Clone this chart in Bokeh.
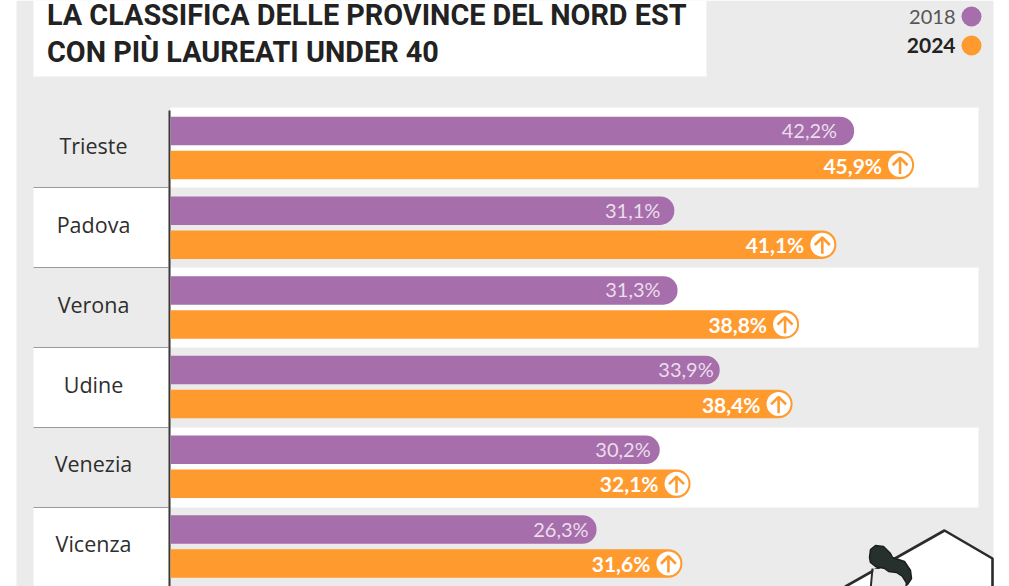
from bokeh.embed import file_html
from bokeh.resources import INLINE
from bokeh.plotting import figure
from bokeh.models import ColumnDataSource, BoxAnnotation, PolyAnnotation, Label, Range1d
from bokeh.core.properties import value
from bokeh.transform import dodge

provinces = ["Trieste", "Padova", "Verona", "Udine", "Venezia", "Vicenza"]
values_2018 = [42.2, 31.1, 31.3, 33.9, 30.2, 26.3]
values_2024 = [45.9, 41.1, 38.8, 38.4, 32.1, 31.6]
title_lines = ["LA CLASSIFICA DELLE PROVINCE DEL NORD EST", "CON PIÙ LAUREATI UNDER 40"]
legend_years = ["2018", "2024"]

W, H = 1009, 586
PURPLE, ORANGE, GRAY, DARK = "#A66EAB", "#FF9A2E", "#EBEBEB", "#2B2B2B"
PX_PER_UNIT = 16.2
X0 = 170
ROW0, PITCH = 147.5, 79.7
BAR_OFF = 17 / PITCH
BAR_H = 28.5 / PITCH
LABEL_INSET_2018 = [-17, -14, -17, -6, -9, -8]

fmt = lambda v: f"{v:.1f}%".replace(".", ",")
rows = list(range(len(provinces)))

p = figure(width=W, height=H, output_backend="svg", toolbar_location=None,
           x_axis_location=None, y_axis_location=None, min_border=0,
           x_range=Range1d(-X0 / PX_PER_UNIT, (W - X0) / PX_PER_UNIT),
           y_range=Range1d((H - ROW0) / PITCH, -ROW0 / PITCH))
p.margin = 0
p.grid.visible = False
p.outline_line_color = None
p.background_fill_color = "white"
p.border_fill_color = "white"


def box(l, r, t, b, color, level="underlay", radius=0):
    p.add_layout(BoxAnnotation(left=l, right=r, top=t, bottom=b,
                               left_units="canvas", right_units="canvas",
                               top_units="canvas", bottom_units="canvas",
                               fill_color=color, fill_alpha=1, line_color=None,
                               level=level, border_radius=radius, editable=False))


def poly(pts, fill, line=None, width=0, level="underlay"):
    p.add_layout(PolyAnnotation(xs=[a for a, _ in pts], ys=[b for _, b in pts],
                                xs_units="canvas", ys_units="canvas",
                                fill_color=fill, fill_alpha=1 if fill else 0,
                                line_color=line, line_alpha=1, line_width=width, level=level))


# panel, title box
box(16, 993, 0, H, GRAY)
box(33, 706, 0, 76, "white")

# alternating row bands
edges = [107, 187, 267, 347, 427, 507, 586]
for i in rows:
    top, bottom = edges[i], edges[i + 1]
    if i % 2 == 0:
        box(170, 978, top, bottom, "white")
    else:
        box(33, 168, top, bottom, "white")
    if i:
        box(33, 168, top - 0.5, top + 0.5, "#9A9A9A")
box(168, 170, 110, H, "#3A3A3A")

# house + person illustration
poly([(845, 586), (944, 530), (992, 558), (992, 590), (845, 590)], "white", DARK, 2.6)
poly([(871, 590), (873, 568), (908, 572), (906, 590)], GRAY)
poly([(872, 568), (870, 590)], None, DARK, 2)
poly([(907, 578), (905, 590)], None, DARK, 2)
poly([(869, 557), (870, 549), (875, 545), (883, 546), (890, 553), (892, 557), (904, 561),
      (910, 570), (911, 578), (907, 584), (902, 576), (896, 572), (888, 571), (884, 568),
      (875, 566), (870, 562)], "#26302C", "#1E1E1E", 1.5)

# bars
src = ColumnDataSource(dict(
    row=rows, name=provinces,
    v18=values_2018, v24=values_2024,
    y18=[r - BAR_OFF for r in rows], y24=[r + BAR_OFF for r in rows],
    l18=[fmt(v) for v in values_2018], l24=[fmt(v) for v in values_2024],
    label_x=[-77 / PX_PER_UNIT] * len(rows), zero=[0] * len(rows),
    inset18=LABEL_INSET_2018,
))
radius = dict(top_left=0, top_right=14, bottom_right=14, bottom_left=0)
p.hbar(y="y18", left="zero", right="v18", height=BAR_H, source=src,
       fill_color=PURPLE, line_color=None, border_radius=radius)
p.hbar(y="y24", left="zero", right="v24", height=BAR_H, source=src,
       fill_color=ORANGE, line_color=None, border_radius=radius)

# value labels
p.text(x="v18", y="y18", text="l18", source=src, x_offset="inset18", y_offset=-1, text_align="right",
       text_baseline="middle", text_color="#EBDDEC", text_font=value("Lato"), text_font_size="20px")
p.text(x="v24", y="y24", text="l24", source=src, x_offset=-32, y_offset=0, text_align="right",
       text_baseline="middle", text_color="white", text_font=value("Lato"),
       text_font_style="bold", text_font_size="21px")

# up-arrow badges: white disc, shaft, two chevron arms
badge_px = -14 / PX_PER_UNIT
arm_px = 3.6 / PX_PER_UNIT
badge_x = dodge("v24", badge_px)
p.scatter(x=badge_x, y="y24", source=src, marker="circle", size=24, fill_color="white", line_color=None)
p.scatter(x=badge_x, y=dodge("y24", 1 / PITCH), source=src, marker="dash", size=16, angle=1.5708,
          line_color=ORANGE, line_width=2.6)
arm_y = dodge("y24", -3.6 / PITCH)
p.scatter(x=dodge("v24", badge_px - arm_px), y=arm_y, source=src, marker="dash", size=11, angle=0.7854,
          line_color=ORANGE, line_width=2.6)
p.scatter(x=dodge("v24", badge_px + arm_px), y=arm_y, source=src, marker="dash", size=11, angle=-0.7854,
          line_color=ORANGE, line_width=2.6)

# province names
p.text(x="label_x", y="row", text="name", source=src, y_offset=-3, text_align="center", text_baseline="middle",
       text_color="#2E2E2E", text_font=value("Open Sans"), text_font_size="21.5px")

# title
for line, y in zip(title_lines, (14, 51)):
    p.add_layout(Label(x=46.5, y=H - y, x_units="screen", y_units="screen", text=line,
                       text_font="Roboto", text_font_style="bold", text_font_size="28.8px",
                       text_color="#222222", text_baseline="alphabetic", text_align="left"))

# legend
p.add_layout(Label(x=955, y=H - 16, x_units="screen", y_units="screen", text=legend_years[0],
                   text_font="Lato", text_font_size="20px", text_color="#555555",
                   text_baseline="middle", text_align="right"))
p.add_layout(Label(x=955, y=H - 45, x_units="screen", y_units="screen", text=legend_years[1],
                   text_font="Lato", text_font_style="bold", text_font_size="21px", text_color="#222222",
                   text_baseline="middle", text_align="right"))
box(961, 981, 6, 26, PURPLE, radius=10)
box(961, 981, 35, 55, ORANGE, radius=10)

open("out.html", "w").write(file_html(p, INLINE))
